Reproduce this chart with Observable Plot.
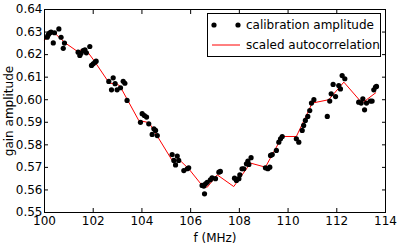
<!DOCTYPE html>
<html>
<head>
<meta charset="utf-8">
<script src="https://cdn.jsdelivr.net/npm/d3@7"></script>
<script src="https://cdn.jsdelivr.net/npm/@observablehq/plot@0.6"></script>
<style>
  html, body { margin: 0; padding: 0; background: #fff; }
  #wrap { position: relative; width: 399px; height: 246px; font-family: "DejaVu Sans", sans-serif; }
  #legend { position: absolute; left: 207px; top: 13px; width: 174px; height: 44px; border: 1px solid #000; background: #fff; box-sizing: border-box; font-size: 12px; }
  .row { position: absolute; left: 2px; display: flex; align-items: center; white-space: nowrap; }
  .row svg { margin-right: 4px; }
</style>
</head>
<body>
<div id="wrap"></div>
<script>
// measured calibration amplitude
const freq = [100.11,100.14,100.18,100.22,100.27,100.36,100.41,100.59,100.68,100.77,100.82,
  101.38,101.45,101.50,101.59,101.66,101.72,101.86,101.93,102.00,102.07,102.12,
  102.64,102.75,102.82,102.90,102.98,103.12,103.23,103.30,103.39,
  103.94,104.01,104.10,104.19,104.28,104.42,104.49,104.56,104.63,
  105.24,105.31,105.38,105.45,105.51,105.72,105.86,105.92,
  106.47,106.54,106.57,106.61,106.68,106.81,106.88,107.02,107.16,107.22,
  107.80,107.88,107.98,108.02,108.11,108.18,108.29,108.35,108.39,108.48,
  109.07,109.17,109.25,109.28,109.35,109.52,109.62,109.69,109.76,
  110.34,110.44,110.58,110.64,110.71,110.81,110.89,110.96,111.06,
  111.61,111.71,111.77,111.85,111.95,112.08,112.15,112.22,112.33,
  112.90,113.00,113.07,113.14,113.22,113.38,113.45,113.52,113.59,113.63];
const amplitude = [0.6277,0.6285,0.6292,0.6297,0.6300,0.6252,0.6297,0.6314,0.6277,0.6228,0.6251,
  0.6211,0.6196,0.6206,0.6218,0.6221,0.6208,0.6236,0.6152,0.6159,0.6166,0.6171,
  0.6081,0.6044,0.6097,0.6071,0.6044,0.6053,0.6082,0.6073,0.5997,
  0.5900,0.5938,0.5930,0.5923,0.5893,0.5846,0.5871,0.5864,0.5841,
  0.5757,0.5731,0.5711,0.5750,0.5731,0.5686,0.5694,0.5698,
  0.5620,0.5617,0.5583,0.5627,0.5634,0.5645,0.5654,0.5650,0.5679,0.5682,
  0.5652,0.5642,0.5650,0.5667,0.5694,0.5694,0.5716,0.5728,0.5713,0.5743,
  0.5698,0.5694,0.5701,0.5753,0.5757,0.5775,0.5812,0.5827,0.5837,
  0.5827,0.5812,0.5864,0.5886,0.5908,0.5926,0.5952,0.5985,0.6000,
  0.5926,0.5994,0.6026,0.6068,0.6014,0.6063,0.6048,0.6107,0.6093,
  0.5989,0.5985,0.6004,0.5955,0.5985,0.5994,0.5994,0.6044,0.6056,0.6059];
// scaled autocorrelation
const corrFreq = [100.0,100.25,100.45,100.86,101.34,101.55,101.75,102.03,102.6,102.71,103.0,103.1,
  103.87,104.22,104.35,105.24,105.45,105.62,105.92,106.47,106.68,107.09,107.77,108.32,108.46,
  109.07,109.76,110.34,110.99,111.67,112.29,113.04,113.6];
const corrValue = [0.6263,0.6294,0.6292,0.6251,0.6215,0.6222,0.6215,0.6174,0.6083,0.6073,0.6068,0.6060,
  0.5908,0.5900,0.5888,0.5731,0.5731,0.5725,0.5694,0.5620,0.5612,0.5667,0.5615,0.5698,0.5719,
  0.5701,0.5837,0.5837,0.5985,0.6000,0.6078,0.5985,0.6031];
const xTicks = [100,102,104,106,108,110,112,114];
const yTicks = [0.55,0.56,0.57,0.58,0.59,0.60,0.61,0.62,0.63,0.64];

const pts = freq.map((f, i) => ({f, a: amplitude[i]}));
const corr = corrFreq.map((f, i) => ({f, a: corrValue[i]}));

const chart = Plot.plot({
  width: 399, height: 246,
  marginLeft: 44, marginRight: 14, marginTop: 9, marginBottom: 34,
  style: {fontFamily: "DejaVu Sans, sans-serif", fontSize: "12px", color: "#000", background: "#fff"},
  x: {domain: [100, 114]},
  y: {domain: [0.55, 0.64]},
  marks: [
    Plot.line(corr, {x: "f", y: "a", stroke: "#ff0000", strokeWidth: 1}),
    Plot.dot(pts, {x: "f", y: "a", r: 2.6, fill: "#000", stroke: "none"}),
    Plot.frame({stroke: "#000", strokeWidth: 1}),
    // inward ticks on all four sides
    Plot.axisX({anchor: "bottom", ticks: xTicks, tickSize: 4, dy: -4, text: null, label: null}),
    Plot.axisX({anchor: "top", ticks: xTicks, tickSize: 4, dy: 4, text: null, label: null}),
    Plot.axisY({anchor: "left", ticks: yTicks, tickSize: 4, dx: 4, text: null, label: null}),
    Plot.axisY({anchor: "right", ticks: yTicks, tickSize: 4, dx: -4, text: null, label: null}),
    // tick labels
    Plot.axisX({anchor: "bottom", ticks: xTicks, tickSize: 0, tickPadding: 4, tickFormat: d => String(d), fontSize: 12, label: "f (MHz)", labelAnchor: "center", labelOffset: 29, labelArrow: "none"}),
    Plot.axisY({anchor: "left", ticks: yTicks, tickSize: 0, tickPadding: 2, tickFormat: d => d.toFixed(2), fontSize: 12, label: "gain amplitude", labelAnchor: "center", labelOffset: 40, labelArrow: "none"})
  ]
});
document.getElementById("wrap").appendChild(chart);

const legend = document.createElement("div");
legend.id = "legend";
legend.innerHTML = `
  <div class="row" style="top:4px;">
    <svg width="32" height="14"><circle cx="4" cy="7" r="2.6" fill="#000"/><circle cx="28" cy="7" r="2.6" fill="#000"/></svg>
    <span>calibration amplitude</span>
  </div>
  <div class="row" style="top:24px;">
    <svg width="32" height="14"><line x1="2" x2="30" y1="7" y2="7" stroke="#ff0000" stroke-width="1"/></svg>
    <span>scaled autocorrelation</span>
  </div>`;
document.getElementById("wrap").appendChild(legend);
</script>
</body>
</html>
